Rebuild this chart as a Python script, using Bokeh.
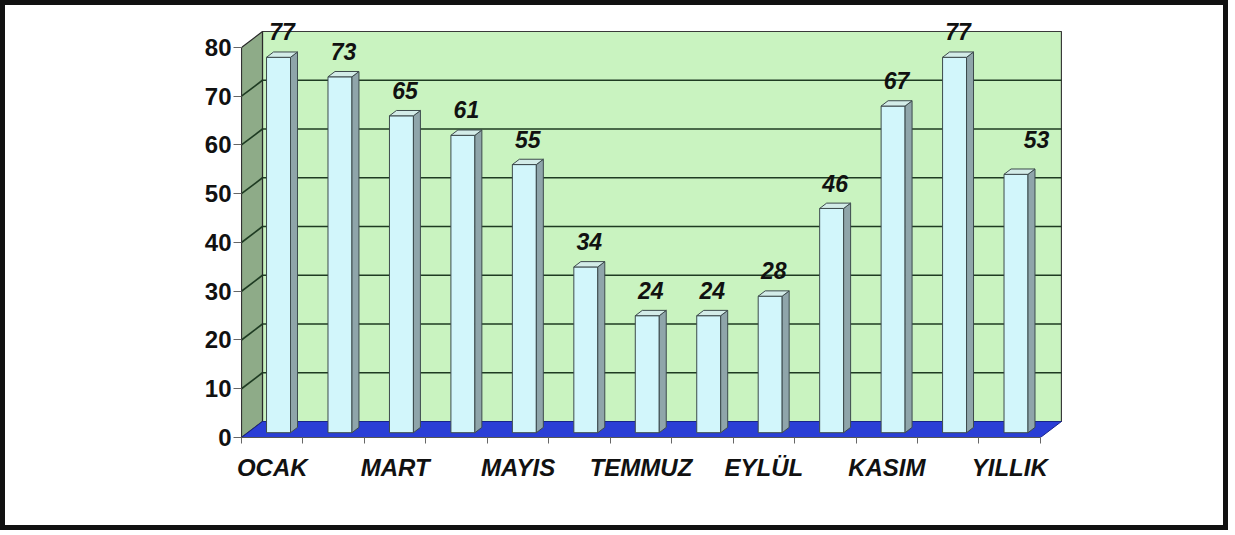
from bokeh.plotting import figure
from bokeh.models import FixedTicker, ColumnDataSource, Range1d
from bokeh.embed import file_html
from bokeh.resources import INLINE
from bokeh.core.properties import value

# ---------------- data ----------------
categories = ["OCAK", "ŞUBAT", "MART", "NİSAN", "MAYIS", "HAZİRAN", "TEMMUZ",
              "AĞUSTOS", "EYLÜL", "EKİM", "KASIM", "ARALIK", "YILLIK"]
values = [77, 73, 65, 61, 55, 34, 24, 24, 28, 46, 67, 77, 53]
y_ticks = [0, 10, 20, 30, 40, 50, 60, 70, 80]
y_max = 80

# ---------------- 3D styling ----------------
DX = 0.3415      # depth shift along x (category units)
DY = 3.28        # depth shift along y (value units)
F0 = 0.30        # depth fraction of the bar front face
DD = 0.333       # bar depth fraction
BW = 0.39        # bar front width (category units)
FONT = value("Liberation Sans")

n = len(categories)
W, H = 1228, 530

p = figure(width=W, height=H,
           x_range=Range1d(-0.5, n - 0.5 + 0.489),
           y_range=Range1d(0, 86.97),
           output_backend="svg", toolbar_location=None,
           min_border_left=236, min_border_right=163,
           min_border_top=8, min_border_bottom=98,
           background_fill_color="white", border_fill_color="white")
p.styles = {"border": "5px solid #111111"}
p.outline_line_color = None
p.grid.grid_line_color = None

# ---------- walls ----------
x0, x1 = -0.5, n - 0.5
p.quad(left=[x0 + DX], right=[x1 + DX], bottom=[DY], top=[y_max + DY],
       fill_color="#c9f3c0", line_color="#3a3a3a", line_width=1.2)
p.patch(x=[x0, x0, x0 + DX, x0 + DX], y=[0, y_max, y_max + DY, DY],
        fill_color="#8eab88", line_color="#2a2a2a", line_width=1.2)
grid_vals = [t for t in y_ticks if 0 < t < y_max]
p.segment(x0=[x0 + DX] * len(grid_vals), y0=[g + DY for g in grid_vals],
          x1=[x1 + DX] * len(grid_vals), y1=[g + DY for g in grid_vals],
          line_color="#1e3b22", line_width=1.6)
p.segment(x0=[x0] * len(grid_vals), y0=grid_vals,
          x1=[x0 + DX] * len(grid_vals), y1=[g + DY for g in grid_vals],
          line_color="#1e3b22", line_width=1.6)
p.patch(x=[x0, x1, x1 + DX, x0 + DX], y=[0, 0, DY, DY],
        fill_color="#2a3ed6", line_color="#18248a", line_width=1)

# ---------- bars ----------
L = [i + F0 * DX - BW / 2 for i in range(n)]
R = [l + BW for l in L]
B = [F0 * DY] * n
T = [v + F0 * DY for v in values]
ddx, ddy = DD * DX, DD * DY

p.quad(left=L, right=R, bottom=B, top=T,
       fill_color="#d2f6fb", line_color="#3c4a4c", line_width=1)
p.patches(xs=[[r, r + ddx, r + ddx, r] for r in R],
          ys=[[b, b + ddy, t + ddy, t] for b, t in zip(B, T)],
          fill_color="#8fa5aa", line_color="#3c4a4c", line_width=1)
p.patches(xs=[[l, r, r + ddx, l + ddx] for l, r in zip(L, R)],
          ys=[[t, t, t + ddy, t + ddy] for t in T],
          fill_color="#d3ece8", line_color="#3c4a4c", line_width=1)

# ---------- value labels ----------
label_dx = [0] * n
label_dy = [-20] * n
label_dx[-1] = 17
label_dy[-1] = -29
src = ColumnDataSource(dict(
    x=[(l + r) / 2 + ddx / 2 for l, r in zip(L, R)],
    y=[t + ddy for t in T],
    txt=[str(v) for v in values],
    dx=label_dx, dy=label_dy))
p.text(x="x", y="y", text="txt", x_offset="dx", y_offset="dy", source=src,
       text_font=FONT, text_font_style="bold italic", text_font_size="23px",
       text_align="center", text_baseline="alphabetic", text_color="#111111")

# ---------- axes ----------
xa = p.xaxis[0]
xa.ticker = FixedTicker(ticks=list(range(0, n, 2)),
                        minor_ticks=[i - 0.5 for i in range(n + 1)])
xa.major_label_overrides = {i: categories[i] for i in range(0, n, 2)}
xa.bounds = (x0, x1)
xa.axis_line_color = "#555555"
xa.major_tick_line_color = None
xa.major_tick_out = 6
xa.major_tick_in = 0
xa.minor_tick_out = 6
xa.minor_tick_in = 0
xa.minor_tick_line_color = "#666666"
xa.major_label_standoff = 10
xa.major_label_text_font = "Liberation Sans"
xa.major_label_text_font_style = "bold italic"
xa.major_label_text_font_size = "24px"
xa.major_label_text_color = "#111111"

ya = p.yaxis[0]
ya.ticker = FixedTicker(ticks=y_ticks, minor_ticks=[])
ya.bounds = (0, y_max)
ya.axis_line_color = "#333333"
ya.major_tick_out = 8
ya.major_tick_in = 0
ya.major_tick_line_color = "#666666"
ya.minor_tick_line_color = None
ya.major_label_standoff = 2
ya.major_label_text_font = "Liberation Sans"
ya.major_label_text_font_style = "bold"
ya.major_label_text_font_size = "24px"
ya.major_label_text_color = "#111111"

open("out.html", "w").write(file_html(p, INLINE))
